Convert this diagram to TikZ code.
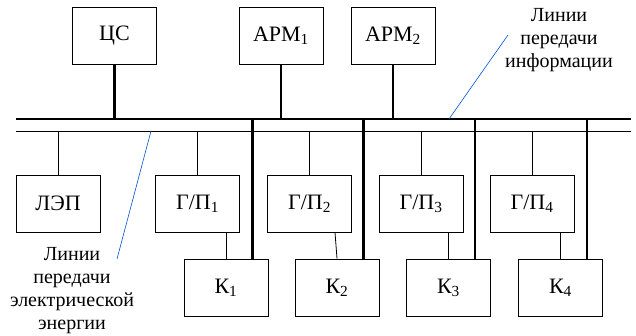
\documentclass[tikz,border=0pt]{standalone}
\usepackage{fontspec}
\setmainfont{Liberation Serif}
\newfontfamily\tnr{Liberation Serif}
\newcommand{\sbs}[1]{\textsubscript{#1}}
\begin{document}
\begin{tikzpicture}[x=1pt,y=-1pt,
  box/.style={draw,line width=0.8pt,minimum width=84pt,minimum height=57pt,inner sep=0pt,font=\tnr\fontsize{22}{25}\selectfont},
  lbl/.style={align=center,font=\tnr\fontsize{20}{23}\selectfont,inner sep=0pt},
  busline/.style={line width=2.2pt},
  thin/.style={line width=0.8pt},
  stem/.style={line width=2.2pt},
  pointer/.style={draw=blue!60!cyan!80!black,line width=0.6pt}]
\useasboundingbox (0,0) rectangle (636,336);
\node[box] (CS) at (114.5,36) {ЦС};
\node[box] (ARM1) at (281,36) {АРМ\sbs{1}};
\node[box] (ARM2) at (393,36) {АРМ\sbs{2}};
\node[box] (LEP) at (58,203.5) {ЛЭП};
\node[box] (GP1) at (197.5,203.5) {Г/П\sbs{1}};
\node[box] (GP2) at (309.5,203.5) {Г/П\sbs{2}};
\node[box] (GP3) at (421,203.5) {Г/П\sbs{3}};
\node[box] (GP4) at (532,203.5) {Г/П\sbs{4}};
\node[box] (K1) at (226,287.5) {К\sbs{1}};
\node[box] (K2) at (337,287.5) {К\sbs{2}};
\node[box] (K3) at (448.5,287.5) {К\sbs{3}};
\node[box] (K4) at (560.5,287.5) {К\sbs{4}};
\coordinate (busL) at (16,119);
\coordinate (busR) at (631,119);
\coordinate (thinL) at (16,131);
\coordinate (thinR) at (631,131);
\draw[busline] (busL) -- (busR);
\draw[thin] (thinL) -- (thinR);
\foreach \n in {CS,ARM1,ARM2} \draw[stem] (\n.south) -- (\n.south |- busL);
\foreach \n in {LEP,GP1,GP2,GP3,GP4} \draw[thin] (\n.north) -- (\n.north |- thinL);
\foreach \n in {K1,K2,K3,K4} \draw[stem] ([xshift=-16pt]\n.north east) -- ([xshift=-16pt]\n.north east |- busL);
\draw[thin] (K1.north) -- (K1.north |- GP1.south);
\draw[thin] (K2.north) -- ([xshift=-2pt]K2.north |- GP2.south);
\draw[thin] (K3.north) -- (K3.north |- GP3.south);
\draw[thin] (K4.north) -- (K4.north |- GP4.south);
\node[lbl] (infolbl) at (559,40) {Линии\\передачи\\информации};
\node[lbl] (enlbl) at (72,291) {Линии\\передачи\\электрической\\энергии};
\coordinate (infoPt) at (449,119);
\coordinate (infoEnd) at (508,35);
\coordinate (enPt) at (151,131);
\coordinate (enEnd) at (117,259);
\draw[pointer] (infoPt) -- (infoEnd);
\draw[pointer] (enPt) -- (enEnd);
\end{tikzpicture}
\end{document}
